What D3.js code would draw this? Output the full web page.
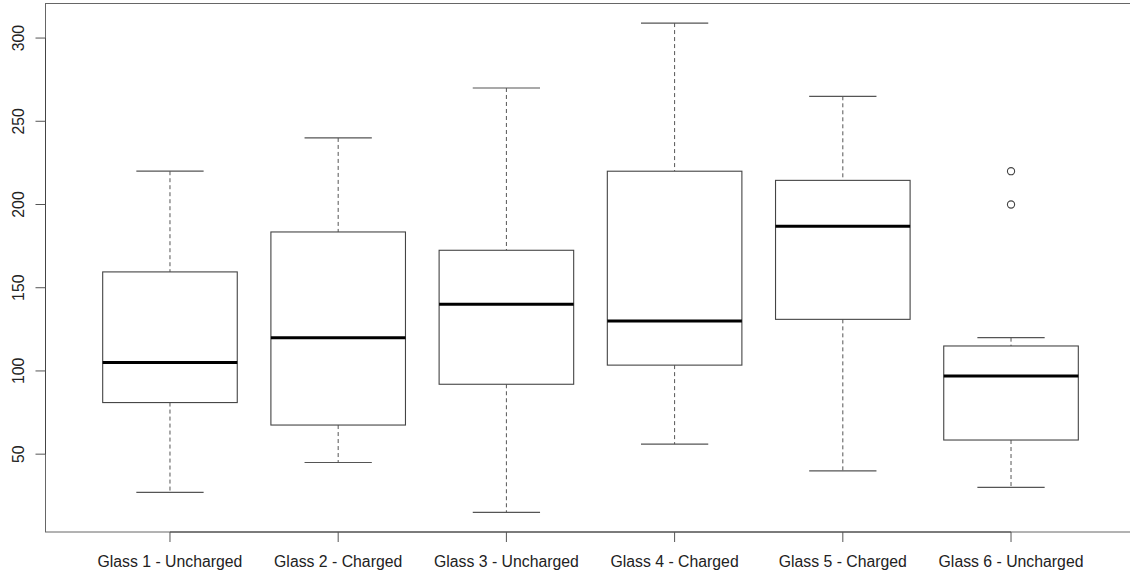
<!DOCTYPE html>
<html>
<head>
<meta charset="utf-8">
<script src="https://cdn.jsdelivr.net/npm/d3@7"></script>
<style>
  html, body { margin: 0; padding: 0; background: #fff; }
  svg { display: block; }
  text { font-family: "Liberation Sans", Arial, Helvetica, sans-serif; fill: #222; }
</style>
</head>
<body>
<div id="chart"></div>
<script>
// Boxplot stats per glass
const categories = ["Glass 1 - Uncharged", "Glass 2 - Charged", "Glass 3 - Uncharged",
                    "Glass 4 - Charged", "Glass 5 - Charged", "Glass 6 - Uncharged"];
const whiskerLow  = [27, 45, 15, 56, 40, 30];
const q1          = [81, 67.5, 92, 103.5, 131, 58.5];
const median      = [105, 120, 140, 130, 187, 97];
const q3          = [159.5, 183.5, 172.5, 220, 214.5, 115];
const whiskerHigh = [220, 240, 270, 309, 265, 120];
const outliers    = [[], [], [], [], [], [200, 220]];
const yTicks      = [50, 100, 150, 200, 250, 300];

const W = 1130, H = 576;
const plot = { left: 45.5, right: 1135.5, top: 3.5, bottom: 532 };

const svg = d3.select("#chart").append("svg")
  .attr("width", W)
  .attr("height", H);

// R-style ranges: data extent padded by 4% on each side
const lo = d3.min(whiskerLow), hi = d3.max([...whiskerHigh, ...outliers.flat()]);
const pad = (hi - lo) * 0.04;
const y = d3.scaleLinear().domain([lo - pad, hi + pad]).range([plot.bottom, plot.top]);
const n = categories.length;
const xPad = n * 0.04;
const x = d3.scaleLinear().domain([0.5 - xPad, n + 0.5 + xPad]).range([plot.left, plot.right]);

const boxHalf = x(1.4) - x(1);
const capHalf = boxHalf / 2;

// Frame
svg.append("rect")
  .attr("x", plot.left).attr("y", plot.top)
  .attr("width", plot.right - plot.left).attr("height", plot.bottom - plot.top)
  .attr("fill", "none").attr("stroke", "#666").attr("stroke-width", 1);

const g = svg.append("g");

categories.forEach((c, i) => {
  const cx = x(i + 1);
  // dashed whiskers
  g.append("line")
    .attr("x1", cx).attr("x2", cx)
    .attr("y1", y(whiskerHigh[i])).attr("y2", y(q3[i]))
    .attr("stroke", "#555").attr("stroke-dasharray", "4,3");
  g.append("line")
    .attr("x1", cx).attr("x2", cx)
    .attr("y1", y(q1[i])).attr("y2", y(whiskerLow[i]))
    .attr("stroke", "#555").attr("stroke-dasharray", "4,3");
  // staples
  [whiskerHigh[i], whiskerLow[i]].forEach(v => {
    g.append("line")
      .attr("x1", cx - capHalf).attr("x2", cx + capHalf)
      .attr("y1", y(v)).attr("y2", y(v))
      .attr("stroke", "#555").attr("stroke-width", 1.2);
  });
  // box
  g.append("rect")
    .attr("x", cx - boxHalf).attr("y", y(q3[i]))
    .attr("width", boxHalf * 2).attr("height", y(q1[i]) - y(q3[i]))
    .attr("fill", "#fff").attr("stroke", "#444").attr("stroke-width", 1.1);
  // median
  g.append("line")
    .attr("x1", cx - boxHalf).attr("x2", cx + boxHalf)
    .attr("y1", y(median[i])).attr("y2", y(median[i]))
    .attr("stroke", "#000").attr("stroke-width", 3);
  // outliers
  outliers[i].forEach(v => {
    g.append("circle")
      .attr("cx", cx).attr("cy", y(v)).attr("r", 3.6)
      .attr("fill", "none").attr("stroke", "#444").attr("stroke-width", 1.1);
  });
});

// Y axis
const yAxis = svg.append("g");
yAxis.append("line")
  .attr("x1", plot.left).attr("x2", plot.left)
  .attr("y1", y(yTicks[0])).attr("y2", y(yTicks[yTicks.length - 1]))
  .attr("stroke", "#444");
yTicks.forEach(t => {
  yAxis.append("line")
    .attr("x1", plot.left - 10).attr("x2", plot.left)
    .attr("y1", y(t)).attr("y2", y(t))
    .attr("stroke", "#555");
  yAxis.append("text")
    .attr("transform", `translate(${plot.left - 22},${y(t)}) rotate(-90)`)
    .attr("text-anchor", "middle")
    .attr("font-size", "15.8px")
    .text(t);
});

// X axis
const xAxis = svg.append("g");
xAxis.append("line")
  .attr("x1", x(1)).attr("x2", x(n))
  .attr("y1", plot.bottom).attr("y2", plot.bottom)
  .attr("stroke", "#444");
categories.forEach((c, i) => {
  const cx = x(i + 1);
  xAxis.append("line")
    .attr("x1", cx).attr("x2", cx)
    .attr("y1", plot.bottom).attr("y2", plot.bottom + 10)
    .attr("stroke", "#555");
  xAxis.append("text")
    .attr("x", cx).attr("y", plot.bottom + 35)
    .attr("text-anchor", "middle")
    .attr("font-size", "15.8px")
    .text(c);
});
</script>
</body>
</html>
